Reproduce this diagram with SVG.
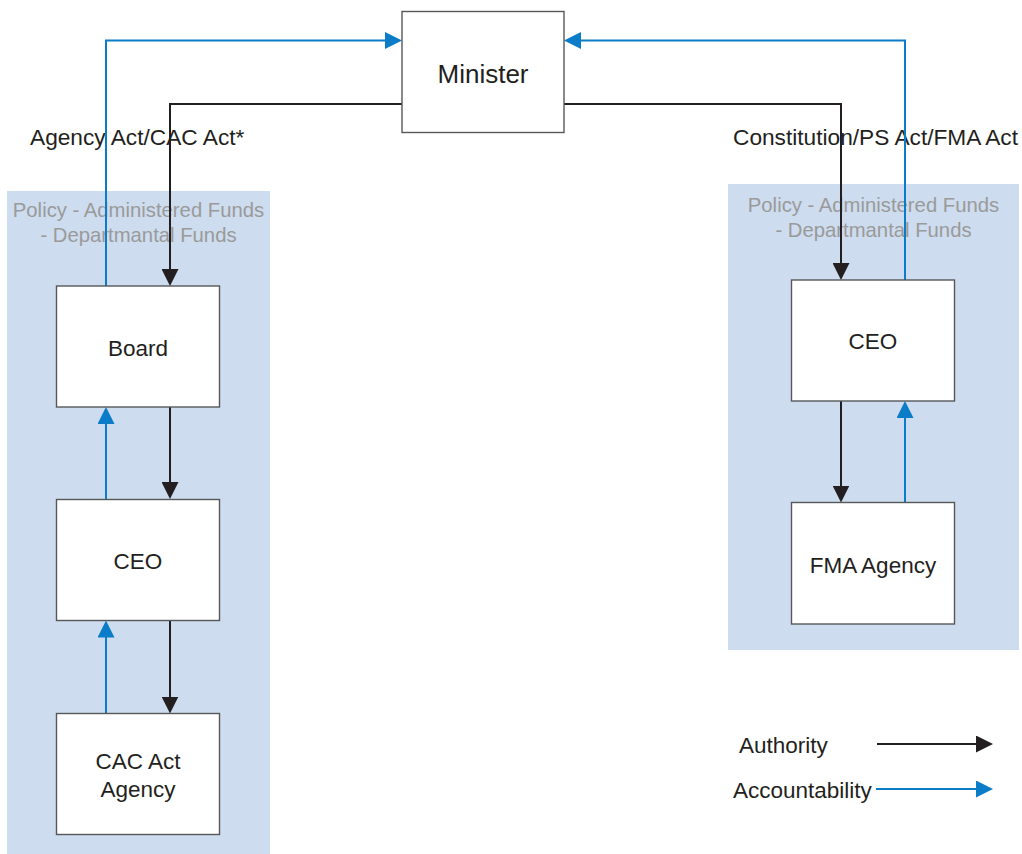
<svg xmlns="http://www.w3.org/2000/svg" width="1022" height="854" viewBox="0 0 1022 854">
  <style>
    .panel { fill: #cddcee; }
    .box { fill: #ffffff; stroke: #555759; stroke-width: 1.4; }
    .txt { font-family: "Liberation Sans", Arial, sans-serif; fill: #231f20; }
    .lbl { font-size: 22.5px; }
    .act { font-size: 22.7px; }
    .policy { font-family: "Liberation Sans", Arial, sans-serif; font-size: 20.3px; fill: #9a9a9a; text-anchor: middle; }
    .auth { fill: none; stroke: #231f20; stroke-width: 2; }
    .acc { fill: none; stroke: #0a7cc8; stroke-width: 2; }
  </style>
  <defs>
    <marker id="headAuth" markerUnits="userSpaceOnUse" markerWidth="17" markerHeight="17" refX="13" refY="8.5" orient="auto">
      <path d="M0,0 L17,8.5 L0,17 Z" fill="#231f20"/>
    </marker>
    <marker id="headAcc" markerUnits="userSpaceOnUse" markerWidth="17" markerHeight="17" refX="13" refY="8.5" orient="auto">
      <path d="M0,0 L17,8.5 L0,17 Z" fill="#0a7cc8"/>
    </marker>
  </defs>

  <rect width="1022" height="854" fill="#ffffff"/>

  <!-- shaded policy areas -->
  <g id="panel-left">
    <rect class="panel" x="7" y="191" width="263" height="663"/>
    <text class="policy" x="138.5" y="216.5">Policy - Administered Funds</text>
    <text class="policy" x="138.5" y="241.5">- Departmantal Funds</text>
  </g>
  <g id="panel-right">
    <rect class="panel" x="728" y="184" width="291" height="466"/>
    <text class="policy" x="873.5" y="211.5">Policy - Administered Funds</text>
    <text class="policy" x="873.5" y="237">- Departmantal Funds</text>
  </g>

  <!-- legislation labels -->
  <text class="txt act" x="30" y="145">Agency Act/CAC Act*</text>
  <text class="txt act" x="733" y="145">Constitution/PS Act/FMA Act</text>

  <!-- connectors -->
  <g id="connectors">
    <path class="acc" d="M106,286 V40.5 H398" marker-end="url(#headAcc)"/>
    <path class="auth" d="M402,104 H170 V282" marker-end="url(#headAuth)"/>
    <path class="acc" d="M905,280 V40.5 H568" marker-end="url(#headAcc)"/>
    <path class="auth" d="M564,104 H841 V276" marker-end="url(#headAuth)"/>

    <path class="auth" d="M170,407 V495" marker-end="url(#headAuth)"/>
    <path class="acc" d="M106,499 V411" marker-end="url(#headAcc)"/>
    <path class="auth" d="M170,620.5 V709.5" marker-end="url(#headAuth)"/>
    <path class="acc" d="M106,713.5 V624.5" marker-end="url(#headAcc)"/>

    <path class="auth" d="M841,401 V498.5" marker-end="url(#headAuth)"/>
    <path class="acc" d="M905,502.5 V405" marker-end="url(#headAcc)"/>
  </g>

  <!-- nodes -->
  <g id="minister">
    <rect class="box" x="402" y="11.5" width="162" height="121"/>
    <text class="txt" x="483" y="83" font-size="26" text-anchor="middle">Minister</text>
  </g>
  <g id="board">
    <rect class="box" x="56.5" y="286" width="163" height="121"/>
    <text class="txt lbl" x="138" y="355.5" text-anchor="middle">Board</text>
  </g>
  <g id="ceo-left">
    <rect class="box" x="56.5" y="499.5" width="163" height="121"/>
    <text class="txt lbl" x="138" y="569" text-anchor="middle">CEO</text>
  </g>
  <g id="cac-agency">
    <rect class="box" x="56.5" y="713.5" width="163" height="121"/>
    <text class="txt lbl" x="138" y="769" text-anchor="middle">CAC Act</text>
    <text class="txt lbl" x="138" y="796.5" text-anchor="middle">Agency</text>
  </g>
  <g id="ceo-right">
    <rect class="box" x="791.5" y="280" width="163" height="121"/>
    <text class="txt lbl" x="873" y="349" text-anchor="middle">CEO</text>
  </g>
  <g id="fma-agency">
    <rect class="box" x="791.5" y="502.5" width="163" height="121.5"/>
    <text class="txt lbl" x="873" y="572.5" text-anchor="middle">FMA Agency</text>
  </g>

  <!-- legend -->
  <g id="legend">
    <text class="txt lbl" x="739" y="753">Authority</text>
    <path class="auth" d="M877,744 H989" marker-end="url(#headAuth)"/>
    <text class="txt lbl" x="733" y="798">Accountability</text>
    <path class="acc" d="M876,789 H989" marker-end="url(#headAcc)"/>
  </g>
</svg>
